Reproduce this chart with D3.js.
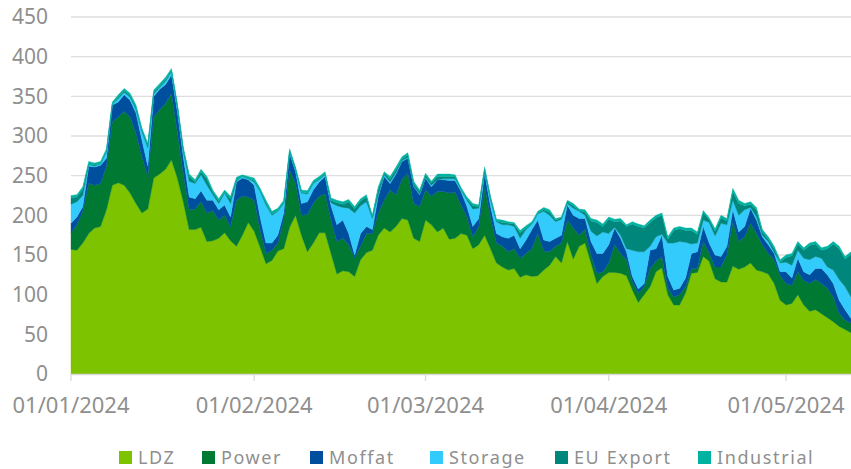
<!DOCTYPE html>
<html>
<head>
<meta charset="utf-8">
<script src="https://cdn.jsdelivr.net/npm/d3@7"></script>
<style>
body { margin: 0; background: #fff; }
text { font-family: "Noto Sans", sans-serif; fill: #8f8f8f; }
</style>
</head>
<body>
<div id="chart"></div>
<script>
var keys = ["LDZ", "Power", "Moffat", "Storage", "EU Export", "Industrial"];
var colours = ["#7dc300", "#007a33", "#004f9f", "#33cbfb", "#00867a", "#00b2a1"];
var yTicks = [0, 50, 100, 150, 200, 250, 300, 350, 400, 450];
var monthTicks = ["01/01/2024", "01/02/2024", "01/03/2024", "01/04/2024", "01/05/2024"];
var firstDay = "01/01/2024";

// daily values, 01/01/2024 .. 12/05/2024
var ldz = [157,156,165,177,184,186,207,238,241,238,
	228,215,203,208,247,252,258,270,247,217,
	182,182,185,167,168,171,178,168,161,175,
	191,180,160,139,143,155,158,185,200,175,
	154,165,178,178,152,126,130,129,123,144,
	153,156,175,184,179,186,196,194,171,167,
	194,188,179,184,170,171,177,175,158,163,
	175,158,140,135,131,133,122,125,123,124,
	131,137,148,140,167,145,161,165,140,114,
	123,128,128,127,124,106,90,100,110,129,
	134,100,87,87,102,127,128,148,142,120,
	116,116,136,132,135,140,131,129,126,114,
	93,87,89,100,87,79,81,76,71,66,
	60,56,52];
var power = [21,32,40,63,54,54,55,80,83,93,
	96,88,71,41,77,81,83,84,58,36,
	25,26,32,36,38,23,22,18,58,49,
	32,39,22,13,13,10,36,72,40,25,
	47,50,46,49,42,41,41,34,23,17,
	24,21,28,35,53,40,49,59,44,44,
	38,36,51,46,58,58,36,23,15,23,
	61,40,25,26,23,25,24,27,35,53,
	24,17,13,25,27,39,14,17,10,13,
	6,12,35,25,20,10,12,10,23,13,
	14,8,10,13,8,6,5,19,10,15,
	19,34,56,35,38,50,46,34,26,30,
	31,27,23,29,31,35,38,38,37,31,
	16,12,12];
var moffat = [12,10,6,22,23,23,10,21,19,21,
	21,26,21,13,26,26,24,23,26,21,
	16,13,14,16,13,13,13,12,23,23,
	22,19,16,13,9,10,9,21,15,15,
	16,17,18,22,18,21,23,14,4,16,
	9,5,21,30,8,26,23,19,21,15,
	15,12,15,15,16,15,17,13,13,10,
	17,13,12,12,17,17,12,17,24,17,
	14,13,10,10,19,16,21,14,17,25,
	23,23,21,19,10,7,5,4,23,16,
	27,15,9,8,11,19,21,19,13,15,
	13,11,15,12,13,19,17,10,11,8,
	5,15,9,17,11,11,14,19,17,17,
	17,13,6];
var storage = [24,19,14,2,1,2,8,1,4,3,
	4,4,10,23,3,2,4,4,5,7,
	20,19,20,19,7,8,15,17,1,2,
	1,4,32,48,35,30,12,2,2,13,
	10,8,3,2,4,24,16,32,53,35,
	31,14,2,2,2,2,1,1,1,1,
	1,2,0,1,2,2,2,8,22,13,
	2,8,15,15,17,11,13,13,7,8,
	36,33,21,20,2,9,9,4,13,22,
	27,14,1,4,4,33,47,40,5,15,
	1,42,59,59,45,12,11,8,26,24,
	42,27,12,21,21,1,4,2,4,1,
	11,12,16,10,17,19,15,13,10,17,
	26,29,27];
var euExport = [8,6,8,1,1,0,1,0,2,2,
	2,3,2,3,2,2,2,1,2,2,
	6,2,4,8,3,3,1,6,2,0,
	0,2,1,3,2,1,1,1,1,1,
	1,1,1,1,3,4,4,8,5,6,
	6,2,7,2,4,4,2,3,3,3,
	3,3,4,3,3,3,1,2,4,2,
	3,2,1,3,2,3,7,2,1,1,
	2,4,2,2,2,3,1,4,13,17,
	7,18,7,18,28,33,32,30,30,24,
	24,5,16,16,15,17,11,9,4,6,
	7,5,11,15,5,4,9,4,3,5,
	1,6,12,8,10,18,16,10,23,33,
	39,35,54];
var industrial = [3,3,3,3,3,3,3,3,3,3,
	3,3,3,3,3,3,3,3,3,3,
	3,3,3,3,3,3,3,3,3,2,
	3,3,3,3,3,3,3,3,3,3,
	3,3,3,3,3,3,3,3,3,3,
	3,2,3,2,3,3,3,3,3,2,
	2,2,3,3,3,2,2,2,3,2,
	3,3,2,3,2,2,3,3,2,2,
	3,3,2,1,2,3,2,3,3,3,
	3,3,3,3,2,3,3,3,3,3,
	3,3,3,3,3,3,3,3,2,3,
	3,3,4,4,3,3,3,3,3,3,
	3,3,3,3,3,3,3,3,3,3,
	3,3,3];

var parse = d3.timeParse("%d/%m/%Y");
var start = parse(firstDay);
var series = [ldz, power, moffat, storage, euExport, industrial];

var rows = ldz.map(function(v, i) {
	var r = { date: d3.timeDay.offset(start, i) };
	keys.forEach(function(k, j) { r[k] = series[j][i]; });
	return r;
});

var svg = d3.select("#chart").append("svg")
	.attr("width", 851)
	.attr("height", 469);

var x = d3.scaleTime()
	.domain([start, rows[rows.length - 1].date])
	.range([71, 851]);
var y = d3.scaleLinear()
	.domain([0, 450])
	.range([374, 17]);

// gridlines + y labels
svg.append("g").selectAll("line")
	.data(yTicks.slice(1))
	.enter().append("line")
	.attr("x1", 71).attr("x2", 851)
	.attr("y1", function(d) { return y(d); })
	.attr("y2", function(d) { return y(d); })
	.attr("stroke", "#dedede")
	.attr("stroke-width", 1.3);

svg.append("g").selectAll("text")
	.data(yTicks)
	.enter().append("text")
	.attr("x", 48)
	.attr("y", function(d) { return y(d); })
	.attr("dy", "0.35em")
	.attr("text-anchor", "end")
	.style("font-size", "21px")
	.text(function(d) { return d; });

// stacked areas
var stack = d3.stack().keys(keys);
var area = d3.area()
	.x(function(d) { return x(d.data.date); })
	.y0(function(d) { return y(d[0]); })
	.y1(function(d) { return y(d[1]); });

svg.append("g").selectAll("path")
	.data(stack(rows))
	.enter().append("path")
	.attr("d", area)
	.attr("fill", function(d, i) { return colours[i]; })
	.attr("stroke", function(d, i) { return colours[i]; })
	.attr("stroke-width", 0.4);

// x axis
svg.append("line")
	.attr("x1", 71).attr("x2", 851)
	.attr("y1", 374.5).attr("y2", 374.5)
	.attr("stroke", "#d9d9d9")
	.attr("stroke-width", 1.3);

var months = monthTicks.map(parse);
svg.append("g").selectAll("line")
	.data(months)
	.enter().append("line")
	.attr("x1", function(d) { return x(d); })
	.attr("x2", function(d) { return x(d); })
	.attr("y1", 374).attr("y2", 381)
	.attr("stroke", "#d9d9d9")
	.attr("stroke-width", 1.3);

svg.append("g").selectAll("text")
	.data(months)
	.enter().append("text")
	.attr("x", function(d) { return x(d); })
	.attr("y", 405)
	.attr("dy", "0.35em")
	.attr("text-anchor", "middle")
	.style("font-size", "22px")
	.text(function(d, i) { return monthTicks[i]; });

// legend
var legendX = [119, 202, 310, 430, 555, 698];
var legend = svg.append("g").selectAll("g")
	.data(keys)
	.enter().append("g")
	.attr("transform", function(d, i) { return "translate(" + legendX[i] + ",451)"; });

legend.append("rect")
	.attr("width", 13)
	.attr("height", 13)
	.attr("fill", function(d, i) { return colours[i]; });

legend.append("text")
	.attr("x", 19)
	.attr("y", 7)
	.attr("dy", "0.35em")
	.style("font-size", "18px")
	.style("letter-spacing", "1.6px")
	.text(function(d) { return d; });
</script>
</body>
</html>
